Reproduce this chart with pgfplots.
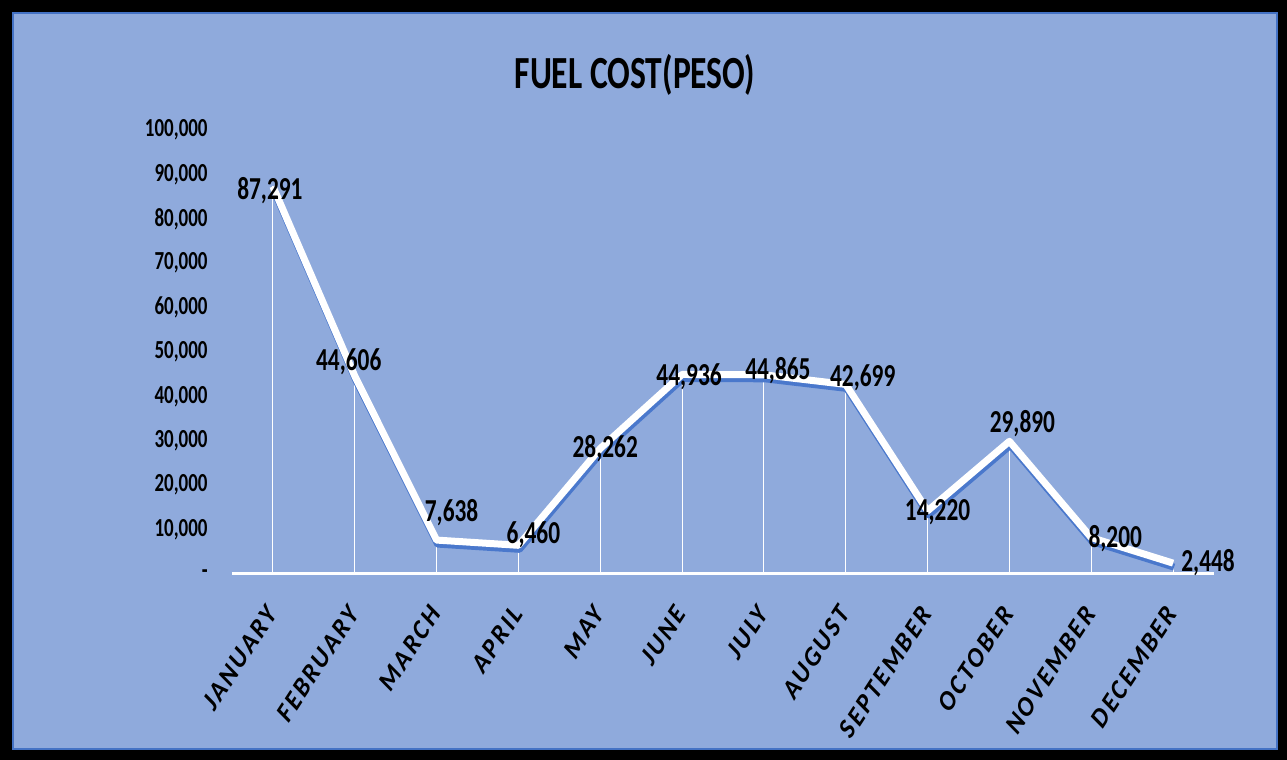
\documentclass[border=0pt]{standalone}
\usepackage{fontspec}
\setmainfont{Carlito}[FakeStretch=0.73]
\newfontfamily\xfont{Carlito}[LetterSpace=10, UprightFeatures={FakeSlant=0.22}, BoldFeatures={FakeSlant=0.22}]
\usepackage{pgfplots}
\pgfplotsset{compat=1.18}
\usepackage{pgfplotstable}
\definecolor{bg}{HTML}{8FAADC}
\definecolor{framec}{HTML}{4472C4}
\definecolor{shadowc}{HTML}{4A78CC}

\pgfplotstableread{
x y dx dy
0 87291 -3 -4
1 44606 -6 14
2 7638 15 27
3 6460 15 11
4 28262 5 0
5 44936 7 -2
6 44865 14 4
7 42699 17 7
8 14220 10 -1
9 29890 13 18
10 8200 24 -1
11 2448 35 1
}\fuel

\begin{document}
\begin{tikzpicture}
\fill[black] (0,0) rectangle (643.5pt,380pt);
\fill[bg] (6pt,5pt) rectangle (639pt,374pt);
\draw[framec, line width=1pt] (6.5pt,5.5pt) rectangle (638.5pt,373.5pt);
\node[font=\bfseries\fontsize{23}{27}\selectfont] at (317.5pt,342.5pt) {FUEL COST(PESO)};
\begin{axis}[
  at={(116pt,93pt)}, anchor=south west,
  scale only axis, width=491pt, height=222pt,
  xmin=-0.5, xmax=11.5, ymin=0, ymax=100000,
  clip=false,
  axis line style={draw=none},
  major tick length=0pt,
  tick style={draw=none},
  xtick={0,...,11},
  xticklabels={JANUARY,FEBRUARY,MARCH,APRIL,MAY,JUNE,JULY,AUGUST,SEPTEMBER,OCTOBER,NOVEMBER,DECEMBER},
  xticklabel style={font=\xfont\bfseries\fontsize{13}{15}\selectfont, inner sep=0pt, xshift=-1pt, yshift=-18pt, rotate=57, anchor=east},
  ytick={0,10000,...,100000},
  yticklabels={{-\hspace{4pt}},{10,000},{20,000},{30,000},{40,000},{50,000},{60,000},{70,000},{80,000},{90,000},{100,000}},
  yticklabel style={font=\bfseries\fontsize{13}{15}\selectfont, anchor=east, inner sep=0pt, xshift=-12pt},
  scaled y ticks=false,
  /pgf/number format/.cd, fixed, precision=0, 1000 sep={,}, assume math mode=true,
]
\addplot[ycomb, white, line width=0.5pt, mark=none] table[x=x,y=y] {\fuel};
\draw[white, line width=1.5pt] (axis cs:-0.5,0) -- (axis cs:11.5,0);
\addplot[shadowc, line width=3.5pt, line join=round, mark=none, shift={(0.5pt,-2pt)}] table[x=x,y=y] {\fuel};
\addplot[white, line width=3.5pt, line join=round, mark=none,
  visualization depends on={\thisrow{dx} \as \dx},
  visualization depends on={\thisrow{dy} \as \dy},
  nodes near coords,
  nodes near coords style={font=\bfseries\fontsize{16}{19}\selectfont, text=black, anchor=center, xshift=\dx*0.5pt, yshift=\dy*0.5pt},
] table[x=x,y=y] {\fuel};
\end{axis}
\end{tikzpicture}
\end{document}
